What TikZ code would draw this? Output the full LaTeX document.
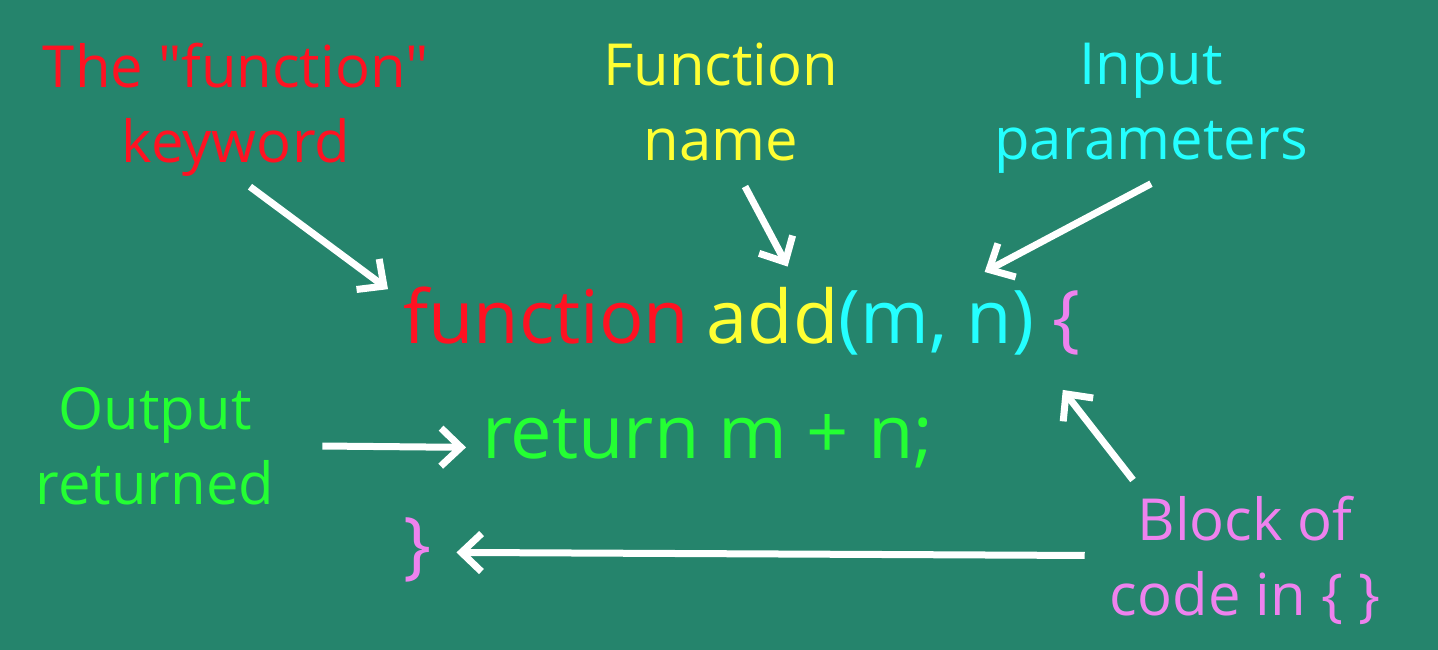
\documentclass[tikz,border=0pt]{standalone}
\usepackage{fontspec}
\setmainfont{Open Sans}
\usetikzlibrary{arrows.meta,positioning}

\definecolor{boardgreen}{RGB}{37,132,108}
\definecolor{kwred}{RGB}{255,18,34}
\definecolor{nameyellow}{RGB}{255,255,51}
\definecolor{parcyan}{RGB}{36,255,255}
\definecolor{retgreen}{RGB}{36,255,51}
\definecolor{blockpink}{RGB}{238,130,238}

\tikzset{
  lab/.style={inner sep=0pt,align=center,font=\fontsize{58}{75}\selectfont},
  code/.style={inner sep=0pt,font=\fontsize{74}{90}\selectfont},
  arr/.style={draw=white,line width=7pt,-{Straight Barb[length=20pt,width=38pt]}},
}

\begin{document}
\begin{tikzpicture}[x=1pt,y=-1pt]
%Shape: board
\fill[boardgreen] (0,0) rectangle (1438,650);
\useasboundingbox (0,0) rectangle (1438,650);

%Labels
\node[lab,text=kwred,anchor=north] (keylab) at (236,43) {The \textquotedbl function\textquotedbl\\keyword};
\node[lab,text=nameyellow,anchor=north] (namelab) at (721,43) {Function\\name};
\node[lab,text=parcyan,anchor=north] (parlab) at (1151,43) {Input\\parameters};
\node[lab,text=retgreen,anchor=north] (outlab) at (155,387) {Output\\returned};
\node[lab,text=blockpink,anchor=north] (blocklab) at (1245,496) {Block of\\code in \{ \}};

%Code
\node[code,text=kwred,anchor=base west] (kw) at (403,343) {function};
\node[code,text=nameyellow,base right=17pt of kw] (fname) {add};
\node[code,text=parcyan,base right=0pt of fname] (params) {(m, n)};
\node[code,text=blockpink,base right=18pt of params] (lbrace) {\{};
\node[code,text=retgreen,anchor=base west] (ret) at (482,458) {return m + n;};
\node[code,text=blockpink,anchor=base west] (rbrace) at (403,570) {\}};

%Arrows
\draw[arr] ([xshift=14pt,yshift=-10pt]keylab.south) -- ([xshift=-15pt,yshift=-3pt]kw.north west);
\draw[arr] ([xshift=24pt,yshift=-25pt]namelab.south) -- ([xshift=15pt,yshift=20pt]fname.north);
\draw[arr] ([yshift=-10pt]parlab.south) -- ([xshift=48pt,yshift=18pt]params.north);
\draw[arr] ([xshift=48pt]outlab.east) -- ([xshift=-16pt,yshift=-9pt]ret.west);
\draw[arr] ([xshift=-25pt,yshift=5pt]blocklab.west) -- ([xshift=25pt,yshift=-3pt]rbrace.east);
\draw[arr] ([xshift=-112pt,yshift=16pt]blocklab.north) -- ([xshift=-4pt,yshift=-35pt]lbrace.south);
\end{tikzpicture}
\end{document}
